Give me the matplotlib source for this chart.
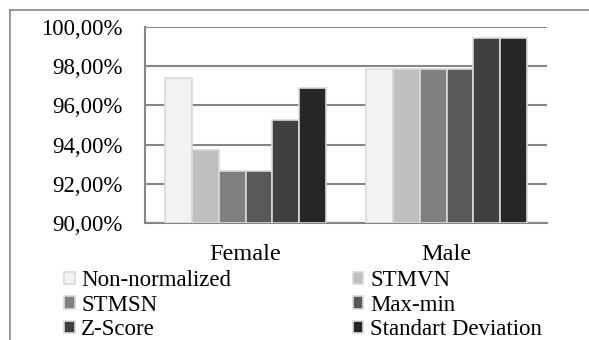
import numpy as np
import matplotlib.pyplot as plt
from matplotlib.lines import Line2D
from matplotlib.ticker import FuncFormatter

groups = ["Female", "Male"]
methods = ["Non-normalized", "STMVN", "STMSN", "Max-min", "Z-Score", "Standart Deviation"]
female = [97.41, 93.72, 92.65, 92.65, 95.28, 96.87]
male = [97.88, 97.88, 97.88, 97.88, 99.42, 99.42]
colors = ["#f2f2f2", "#bfbfbf", "#808080", "#595959", "#404040", "#262626"]

plt.rcParams["font.family"] = ["Liberation Serif", "DejaVu Serif"]

fig = plt.figure(figsize=(5.89, 3.40), dpi=100)
ax = fig.add_axes([145 / 589, 1 - 223 / 340, 402 / 589, 196 / 340])

x = np.arange(len(groups))
width = 0.8 / len(methods)
values = np.array([female, male])
handles = []
for i, (name, col) in enumerate(zip(methods, colors)):
    pos = x - 0.4 + width * (i + 0.5)
    h = ax.bar(pos, values[:, i] - 90, width, bottom=90, color=col,
               edgecolor="#d9d9d9", linewidth=1.2, label=name, zorder=3)
    handles.append(h)

ax.set_xlim(-0.5, 1.5)
ax.set_ylim(90, 100)
ax.set_yticks(np.arange(90, 101, 2))
ax.yaxis.set_major_formatter(FuncFormatter(lambda v, p: f"{v:.2f}%".replace(".", ",")))
ax.grid(axis="y", color="#868686", linewidth=1.5, zorder=0)
ax.set_xticks(x)
ax.set_xticklabels(groups)
ax.tick_params(axis="y", length=0, pad=16, labelsize=16.5)
ax.tick_params(axis="x", length=0, pad=15, labelsize=17.5)
for side in ["top", "right"]:
    ax.spines[side].set_visible(False)
for side in ["left", "bottom"]:
    ax.spines[side].set_color("#868686")
    ax.spines[side].set_linewidth(1.5)

# legend filled column by column, so reorder to read row-wise
order = [0, 2, 4, 1, 3, 5]
fig.legend([handles[i] for i in order], [methods[i] for i in order],
           ncol=2, loc="upper left", bbox_to_anchor=(64 / 589, 1 - 270 / 340),
           frameon=False, fontsize=16.5, handlelength=0.46, handleheight=0.46,
           handletextpad=0.3, labelspacing=0.16, columnspacing=5.3,
           borderpad=0, borderaxespad=0)

# outer chart frame
fx, fy = 10 / 589, 1 - 10 / 340
fig.add_artist(Line2D([fx, fx], [0, fy], color="#868686", linewidth=1.2))
fig.add_artist(Line2D([fx, 1], [fy, fy], color="#868686", linewidth=1.2))

fig.savefig("out.png", dpi=100)
